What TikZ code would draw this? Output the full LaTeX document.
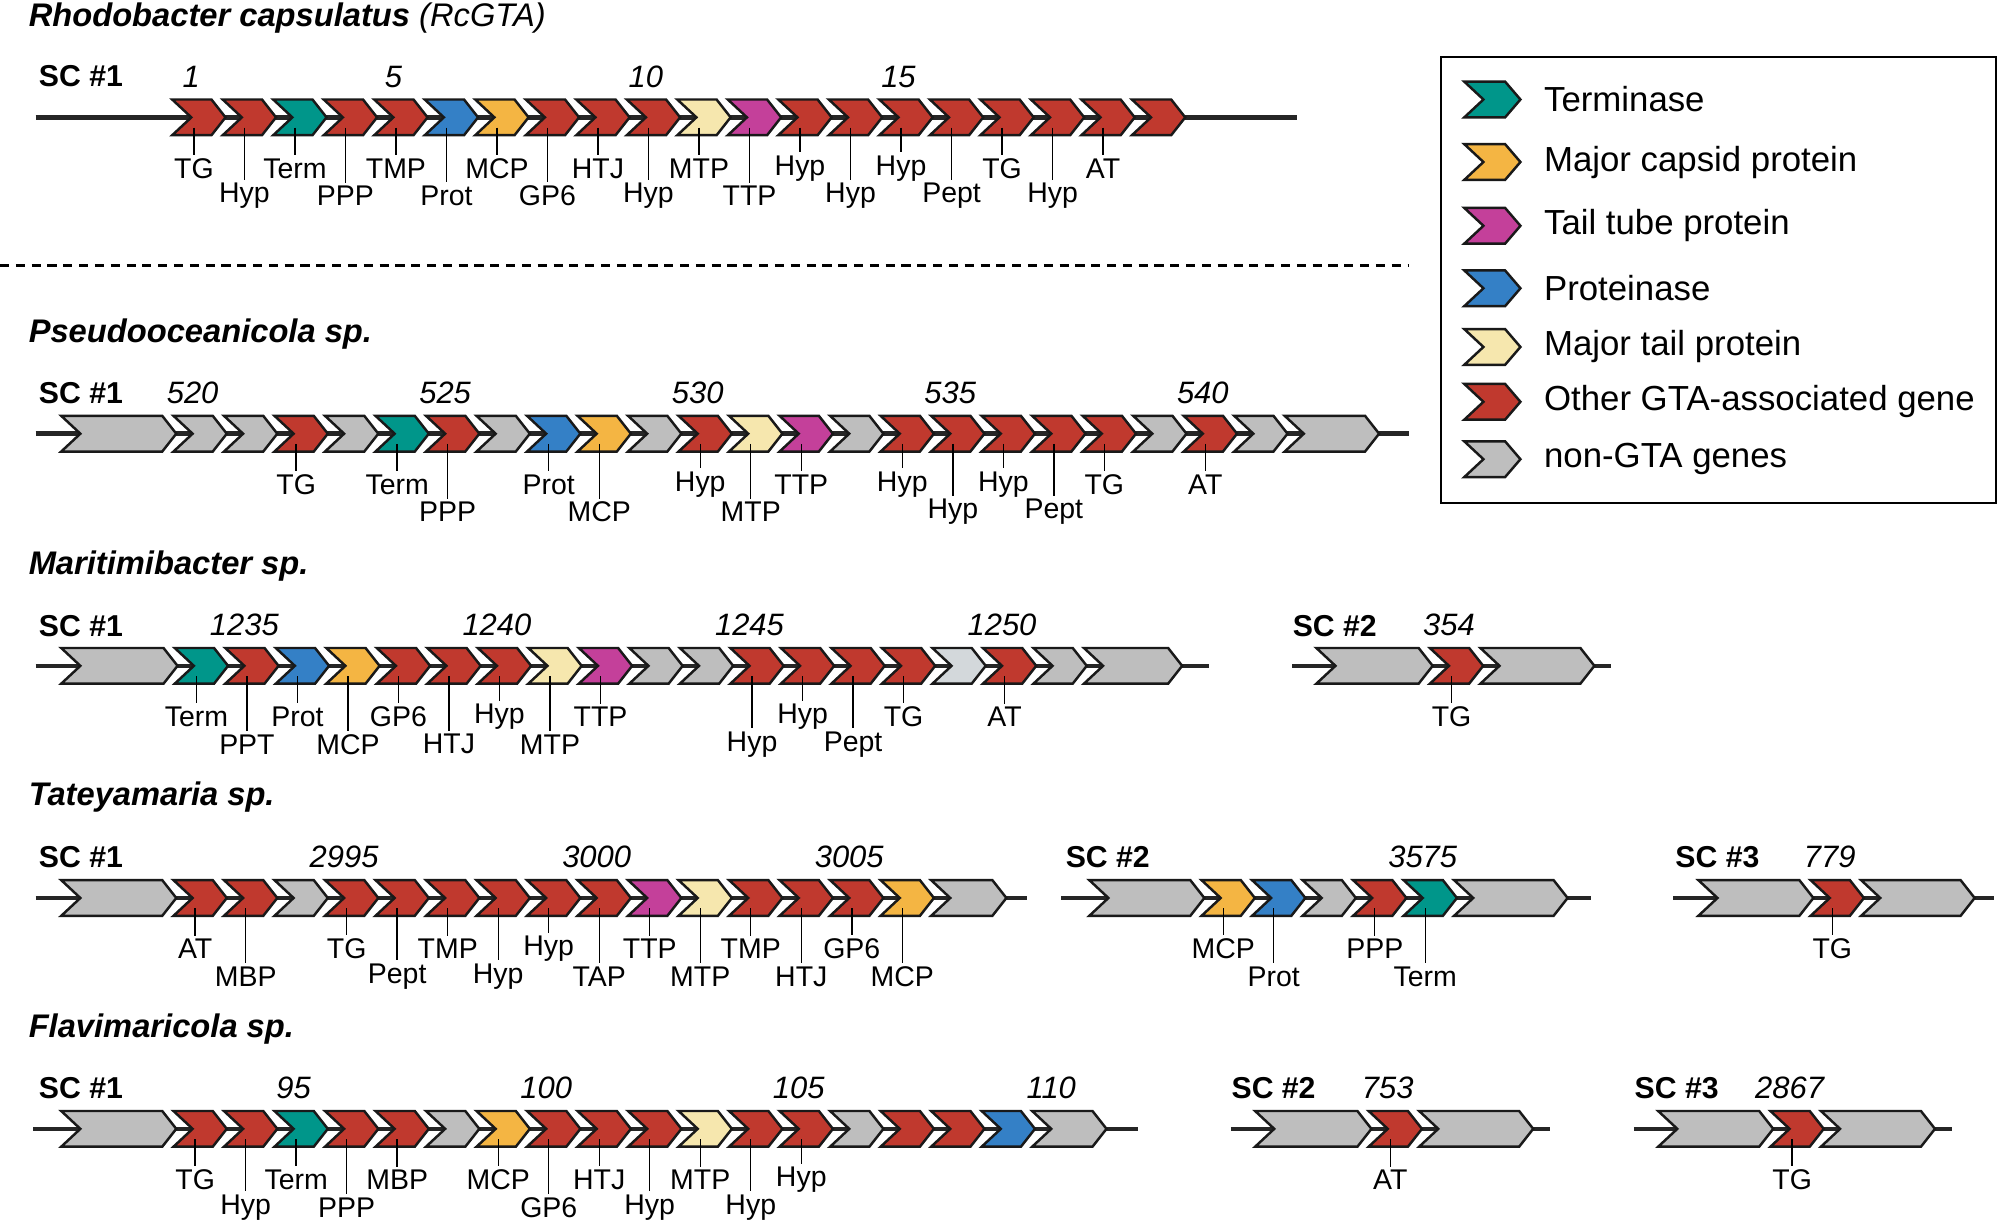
\documentclass[tikz,border=0pt]{standalone}
\usepackage{fontspec}
\setmainfont{Liberation Sans}
\definecolor{gred}{HTML}{C0392E}
\definecolor{gteal}{HTML}{00968A}
\definecolor{gorange}{HTML}{F4B543}
\definecolor{gmag}{HTML}{C4409A}
\definecolor{gblue}{HTML}{3480C6}
\definecolor{gyel}{HTML}{F6E7AE}
\definecolor{ggray}{HTML}{BEBEBE}
\definecolor{glgray}{HTML}{D3D8DB}
\newcount\lblcnt
\def\W{41.8}
\newcommand\rowstart[2]{\xdef\gX{#1}\xdef\gY{#2}}
% \gene[number]{colour}{length to tip}{label}{level: 1 upper, 2 lower}
\newcommand\gene[5][]{%
  \draw[genebox, fill=#2] (\gX,\gY-14) -- ++(#3-11,0) -- ++(11,14) -- ++(-11,14) -- ++(-#3+11,0) -- ++(15,-14) -- cycle;
  \pgfmathsetmacro\gtx{\gX+17}%
  \global\advance\lblcnt by 1
  \if\relax\detokenize{#4}\relax\else
    \ifnum#5=1 \def\glly{40}\else\def\glly{61.5}\fi
    \coordinate (T\the\lblcnt) at (\gtx,\gY+8);
    \node[genelab] (L\the\lblcnt) at (\gtx,\gY+\glly) {#4};
    \draw[tick] (T\the\lblcnt) -- (L\the\lblcnt.north);
  \fi
  \if\relax\detokenize{#1}\relax\else
    \node[num] (N\the\lblcnt) at (\gtx-2,\gY-32) {#1};
  \fi
  \pgfmathsetmacro\gxn{\gX+#3-2.2}%
  \xdef\gX{\gxn}%
}
\newcommand\legchev[2]{%
  \draw[genebox, fill=#2] (1148,#1-14) -- ++(32,0) -- ++(12,14) -- ++(-12,14) -- ++(-32,0) -- ++(15,-14) -- cycle;
}
\tikzset{
  genebox/.style={draw=black!90, line width=0.7pt, line join=miter},
  backbone/.style={draw=black!85, line width=1.25pt},
  tick/.style={draw=black, line width=0.4pt},
  genelab/.style={font=\fontsize{8.1}{8.5}\selectfont, inner sep=0.8pt},
  num/.style={font=\fontsize{8.8}{9}\selectfont\itshape, inner sep=0pt},
  sclab/.style={font=\fontsize{8.6}{9}\selectfont\bfseries, anchor=west, inner sep=0pt},
  ttl/.style={font=\fontsize{9.3}{10}\selectfont, anchor=west, inner sep=0pt},
  legtext/.style={font=\fontsize{9.9}{11}\selectfont, anchor=west, inner sep=0pt},
  dashline/.style={line width=0.9pt, dash pattern=on 2.6pt off 1.9pt},
}
\begin{document}
\begin{tikzpicture}[x=0.012755cm, y=-0.012755cm]
\useasboundingbox (0,0) rectangle (1568,960);
\fill[white] (0,0) rectangle (1568,960);

% ---------- Row 1: Rhodobacter capsulatus ----------
\node[ttl] (t1) at (22,14) {\textbf{\textit{Rhodobacter capsulatus}} \textit{(RcGTA)}};
\node[sclab] (s11) at (30,60) {SC \#1};
\draw[backbone] (28,92) -- (1017,92);
\rowstart{135}{92}
\gene[1]{gred}{\W}{TG}{1}
\gene{gred}{\W}{Hyp}{2}
\gene{gteal}{\W}{Term}{1}
\gene{gred}{\W}{PPP}{2}
\gene[5]{gred}{\W}{TMP}{1}
\gene{gblue}{\W}{Prot}{2}
\gene{gorange}{\W}{MCP}{1}
\gene{gred}{\W}{GP6}{2}
\gene{gred}{\W}{HTJ}{1}
\gene[10]{gred}{\W}{Hyp}{2}
\gene{gyel}{\W}{MTP}{1}
\gene{gmag}{\W}{TTP}{2}
\gene{gred}{\W}{Hyp}{1}
\gene{gred}{\W}{Hyp}{2}
\gene[15]{gred}{\W}{Hyp}{1}
\gene{gred}{\W}{Pept}{2}
\gene{gred}{\W}{TG}{1}
\gene{gred}{\W}{Hyp}{2}
\gene{gred}{\W}{AT}{1}
\gene{gred}{\W}{}{0}

\draw[dashline] (0,208) -- (1105,208);

% ---------- Legend ----------
\draw[line width=0.55pt] (1130,45) rectangle (1565,394);
\legchev{78}{gteal}   \node[legtext] (e1) at (1210,78) {Terminase};
\legchev{127}{gorange} \node[legtext] (e2) at (1210,127) {Major capsid protein};
\legchev{177}{gmag}   \node[legtext] (e3) at (1210,177) {Tail tube protein};
\legchev{226}{gblue}  \node[legtext] (e4) at (1210,226) {Proteinase};
\legchev{272}{gyel}   \node[legtext] (e5) at (1210,272) {Major tail protein};
\legchev{315}{gred}   \node[legtext] (e6) at (1210,315) {Other GTA-associated gene};
\legchev{360}{ggray}  \node[legtext] (e7) at (1210,360) {non-GTA genes};

% ---------- Row 2: Pseudooceanicola ----------
\node[ttl] (t2) at (22,262) {\textbf{\textit{Pseudooceanicola sp.}}};
\node[sclab] (s21) at (30,308) {SC \#1};
\draw[backbone] (28,340) -- (1105,340);
\rowstart{48}{340}
\gene{ggray}{90.2}{}{0}
\gene[520]{ggray}{\W}{}{0}
\gene{ggray}{\W}{}{0}
\gene{gred}{\W}{TG}{1}
\gene{ggray}{\W}{}{0}
\gene{gteal}{\W}{Term}{1}
\gene[525]{gred}{\W}{PPP}{2}
\gene{ggray}{\W}{}{0}
\gene{gblue}{\W}{Prot}{1}
\gene{gorange}{\W}{MCP}{2}
\gene{ggray}{\W}{}{0}
\gene[530]{gred}{\W}{Hyp}{1}
\gene{gyel}{\W}{MTP}{2}
\gene{gmag}{\W}{TTP}{1}
\gene{ggray}{\W}{}{0}
\gene{gred}{\W}{Hyp}{1}
\gene[535]{gred}{\W}{Hyp}{2}
\gene{gred}{\W}{Hyp}{1}
\gene{gred}{\W}{Pept}{2}
\gene{gred}{\W}{TG}{1}
\gene{ggray}{\W}{}{0}
\gene[540]{gred}{\W}{AT}{1}
\gene{ggray}{\W}{}{0}
\gene{ggray}{74}{}{0}

% ---------- Row 3: Maritimibacter ----------
\node[ttl] (t3) at (22,444) {\textbf{\textit{Maritimibacter sp.}}};
\node[sclab] (s31) at (30,491) {SC \#1};
\draw[backbone] (28,522) -- (948,522);
\rowstart{48}{522}
\gene{ggray}{91.2}{}{0}
\gene{gteal}{\W}{Term}{1}
\gene[1235]{gred}{\W}{PPT}{2}
\gene{gblue}{\W}{Prot}{1}
\gene{gorange}{\W}{MCP}{2}
\gene{gred}{\W}{GP6}{1}
\gene{gred}{\W}{HTJ}{2}
\gene[1240]{gred}{\W}{Hyp}{1}
\gene{gyel}{\W}{MTP}{2}
\gene{gmag}{\W}{TTP}{1}
\gene{ggray}{\W}{}{0}
\gene{ggray}{\W}{}{0}
\gene[1245]{gred}{\W}{Hyp}{2}
\gene{gred}{\W}{Hyp}{1}
\gene{gred}{\W}{Pept}{2}
\gene{gred}{\W}{TG}{1}
\gene{glgray}{\W}{}{0}
\gene[1250]{gred}{\W}{AT}{1}
\gene{ggray}{\W}{}{0}
\gene{ggray}{77}{}{0}

\node[sclab] (s32) at (1013,491) {SC \#2};
\draw[backbone] (1013,522) -- (1263,522);
\rowstart{1032}{522}
\gene{ggray}{91.2}{}{0}
\gene[354]{gred}{\W}{TG}{1}
\gene{ggray}{89.4}{}{0}

% ---------- Row 4: Tateyamaria ----------
\node[ttl] (t4) at (22,625) {\textbf{\textit{Tateyamaria sp.}}};
\node[sclab] (s41) at (30,672) {SC \#1};
\draw[backbone] (28,704) -- (805,704);
\rowstart{48}{704}
\gene{ggray}{90.2}{}{0}
\gene{gred}{\W}{AT}{1}
\gene{gred}{\W}{MBP}{2}
\gene{ggray}{\W}{}{0}
\gene[2995]{gred}{\W}{TG}{1}
\gene{gred}{\W}{Pept}{2}
\gene{gred}{\W}{TMP}{1}
\gene{gred}{\W}{Hyp}{2}
\gene{gred}{\W}{Hyp}{1}
\gene[3000]{gred}{\W}{TAP}{2}
\gene{gmag}{\W}{TTP}{1}
\gene{gyel}{\W}{MTP}{2}
\gene{gred}{\W}{TMP}{1}
\gene{gred}{\W}{HTJ}{2}
\gene[3005]{gred}{\W}{GP6}{1}
\gene{gorange}{\W}{MCP}{2}
\gene{ggray}{59}{}{0}

\node[sclab] (s42) at (835,672) {SC \#2};
\draw[backbone] (832,704) -- (1247,704);
\rowstart{854}{704}
\gene{ggray}{90.2}{}{0}
\gene{gorange}{\W}{MCP}{1}
\gene{gblue}{\W}{Prot}{2}
\gene{ggray}{\W}{}{0}
\gene{gred}{\W}{PPP}{1}
\gene[3575]{gteal}{\W}{Term}{2}
\gene{ggray}{89}{}{0}

\node[sclab] (s43) at (1313,672) {SC \#3};
\draw[backbone] (1312,704) -- (1563,704);
\rowstart{1331.5}{704}
\gene{ggray}{90.2}{}{0}
\gene[779]{gred}{\W}{TG}{1}
\gene{ggray}{89}{}{0}

% ---------- Row 5: Flavimaricola ----------
\node[ttl] (t5) at (22,807) {\textbf{\textit{Flavimaricola sp.}}};
\node[sclab] (s51) at (30,853) {SC \#1};
\draw[backbone] (26,885) -- (892,885);
\rowstart{48}{885}
\gene{ggray}{90.2}{}{0}
\gene{gred}{\W}{TG}{1}
\gene{gred}{\W}{Hyp}{2}
\gene[95]{gteal}{\W}{Term}{1}
\gene{gred}{\W}{PPP}{2}
\gene{gred}{\W}{MBP}{1}
\gene{ggray}{\W}{}{0}
\gene{gorange}{\W}{MCP}{1}
\gene[100]{gred}{\W}{GP6}{2}
\gene{gred}{\W}{HTJ}{1}
\gene{gred}{\W}{Hyp}{2}
\gene{gyel}{\W}{MTP}{1}
\gene{gred}{\W}{Hyp}{2}
\gene[105]{gred}{\W}{Hyp}{1}
\gene{ggray}{\W}{}{0}
\gene{gred}{\W}{}{0}
\gene{gred}{\W}{}{0}
\gene{gblue}{\W}{}{0}
\gene[110]{ggray}{58.3}{}{0}

\node[sclab] (s52) at (965,853) {SC \#2};
\draw[backbone] (965,885) -- (1215,885);
\rowstart{984}{885}
\gene{ggray}{91.2}{}{0}
\gene[753]{gred}{\W}{AT}{1}
\gene{ggray}{89.4}{}{0}

\node[sclab] (s53) at (1281,853) {SC \#3};
\draw[backbone] (1281,885) -- (1530,885);
\rowstart{1300}{885}
\gene{ggray}{90.2}{}{0}
\gene[2867]{gred}{\W}{TG}{1}
\gene{ggray}{89.4}{}{0}
\end{tikzpicture}
\end{document}
